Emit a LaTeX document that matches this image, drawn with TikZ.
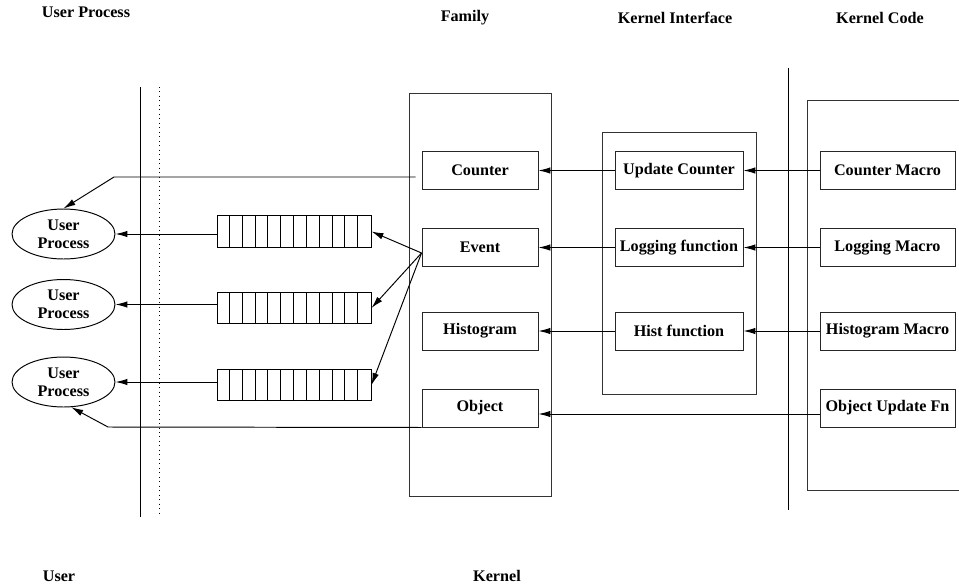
\documentclass[tikz,border=0pt]{standalone}
\usepackage{fontspec}
\setmainfont{Liberation Serif}
\usetikzlibrary{arrows.meta}
\usetikzlibrary{shapes.geometric}

\tikzset{
    lbl/.style={font=\bfseries\fontsize{9.2}{10}\selectfont, align=center},
    box/.style={lbl, draw=black!85, line width=0.55pt, minimum height=0.76cm, inner sep=0pt},
    famb/.style={box, minimum width=2.32cm},
    kifb/.style={box, minimum width=2.56cm},
    kcb/.style={box, minimum width=2.7cm},
    frame/.style={draw=black!80, line width=0.55pt, inner sep=0pt},
    queue/.style={draw, line width=0.55pt, minimum width=3.08cm, minimum height=0.63cm, inner sep=0pt},
    uproc/.style={lbl, ellipse, draw, line width=0.55pt, minimum width=2.06cm, minimum height=1cm, inner sep=0pt},
    arr/.style={line width=0.55pt, -{Latex[length=2.4mm,width=1.3mm]}},
}

\begin{document}
\begin{tikzpicture}[x=0.02cm, y=-0.02cm]
    \clip (0,0) rectangle (959,585);

    % titles
    \node[lbl] (tuser) at (86,12) {User Process};
    \node[lbl] (tfam) at (465,18) {Family};
    \node[lbl] (tkif) at (675,18) {Kernel Interface};
    \node[lbl] (tkc) at (880,18) {Kernel Code};
    \node[lbl] (buser) at (59,576) {User};
    \node[lbl] (bkern) at (497,576) {Kernel};

    % separators
    \draw[line width=0.55pt] (140,87) -- (140,517);
    \draw[line width=0.55pt, dotted] (159,87) -- (159,517);
    \draw[line width=0.55pt] (788,68) -- (788,510);

    % frames
    \node[frame, minimum width=2.84cm, minimum height=8.08cm] (family) at (480,295) {};
    \node[frame, minimum width=3.08cm, minimum height=5.26cm] (kif) at (679,263.5) {};
    \node[frame, minimum width=3.26cm, minimum height=7.82cm] (kcode) at (888.5,295.5) {};

    % family
    \node[famb] (counter) at (480,170.5) {Counter};
    \node[famb] (event) at (480,247.5) {Event};
    \node[famb] (hist) at (480,331) {Histogram};
    \node[famb] (object) at (480,408) {Object};

    % kernel interface
    \node[kifb] (updcounter) at (679,170.5) {Update Counter};
    \node[kifb] (logfn) at (679,247.5) {Logging function};
    \node[kifb] (histfn) at (679,331) {Hist function};

    % kernel code
    \node[kcb] (ctrmacro) at (887.5,170.5) {Counter Macro};
    \node[kcb] (logmacro) at (887.5,247.5) {Logging Macro};
    \node[kcb] (histmacro) at (887.5,331) {Histogram Macro};
    \node[kcb] (objupdate) at (887.5,408) {Object Update Fn};

    % user processes and queues
    \foreach \n/\ye/\yq in {1/234/231.5, 2/304.5/308, 3/382/385}{
        \node[uproc] (up\n) at (63.5,\ye) {User\\Process};
        \node[queue] (q\n) at (294,\yq) {};
        \foreach \k in {1,...,11}
            \draw[line width=0.55pt] ([xshift=\k*0.25667cm]q\n.south west) -- ([xshift=\k*0.25667cm]q\n.north west);
        \draw[arr] (q\n.west |- up\n.east) -- (up\n.east);
    }

    % kernel code -> interface -> family
    \draw[arr] (ctrmacro.west) -- (updcounter.east);
    \draw[arr] (updcounter.west) -- (counter.east);
    \draw[arr] (logmacro.west) -- (logfn.east);
    \draw[arr] (logfn.west) -- (event.east);
    \draw[arr] (histmacro.west) -- (histfn.east);
    \draw[arr] (histfn.west) -- (hist.east);
    \draw[arr] ([yshift=-0.12cm]objupdate.west) -- ([yshift=-0.12cm]object.east);

    % event fan out
    \coordinate (evsrc) at ([yshift=-0.11cm]event.west);
    \foreach \n in {1,2,3}
        \draw[arr] (evsrc) -- (q\n.east);

    % counter and object to user processes
    \coordinate (ctrstart) at ([xshift=-0.12cm, yshift=-0.13cm]counter.west);
    \coordinate (ctrbend) at (114,177);
    \draw[arr] (ctrstart) -- (ctrbend) -- (up1.north);
    \coordinate (objbend) at (108,427);
    \draw[arr] (object.south west) -- (objbend) -- (up3.-73);
\end{tikzpicture}
\end{document}
